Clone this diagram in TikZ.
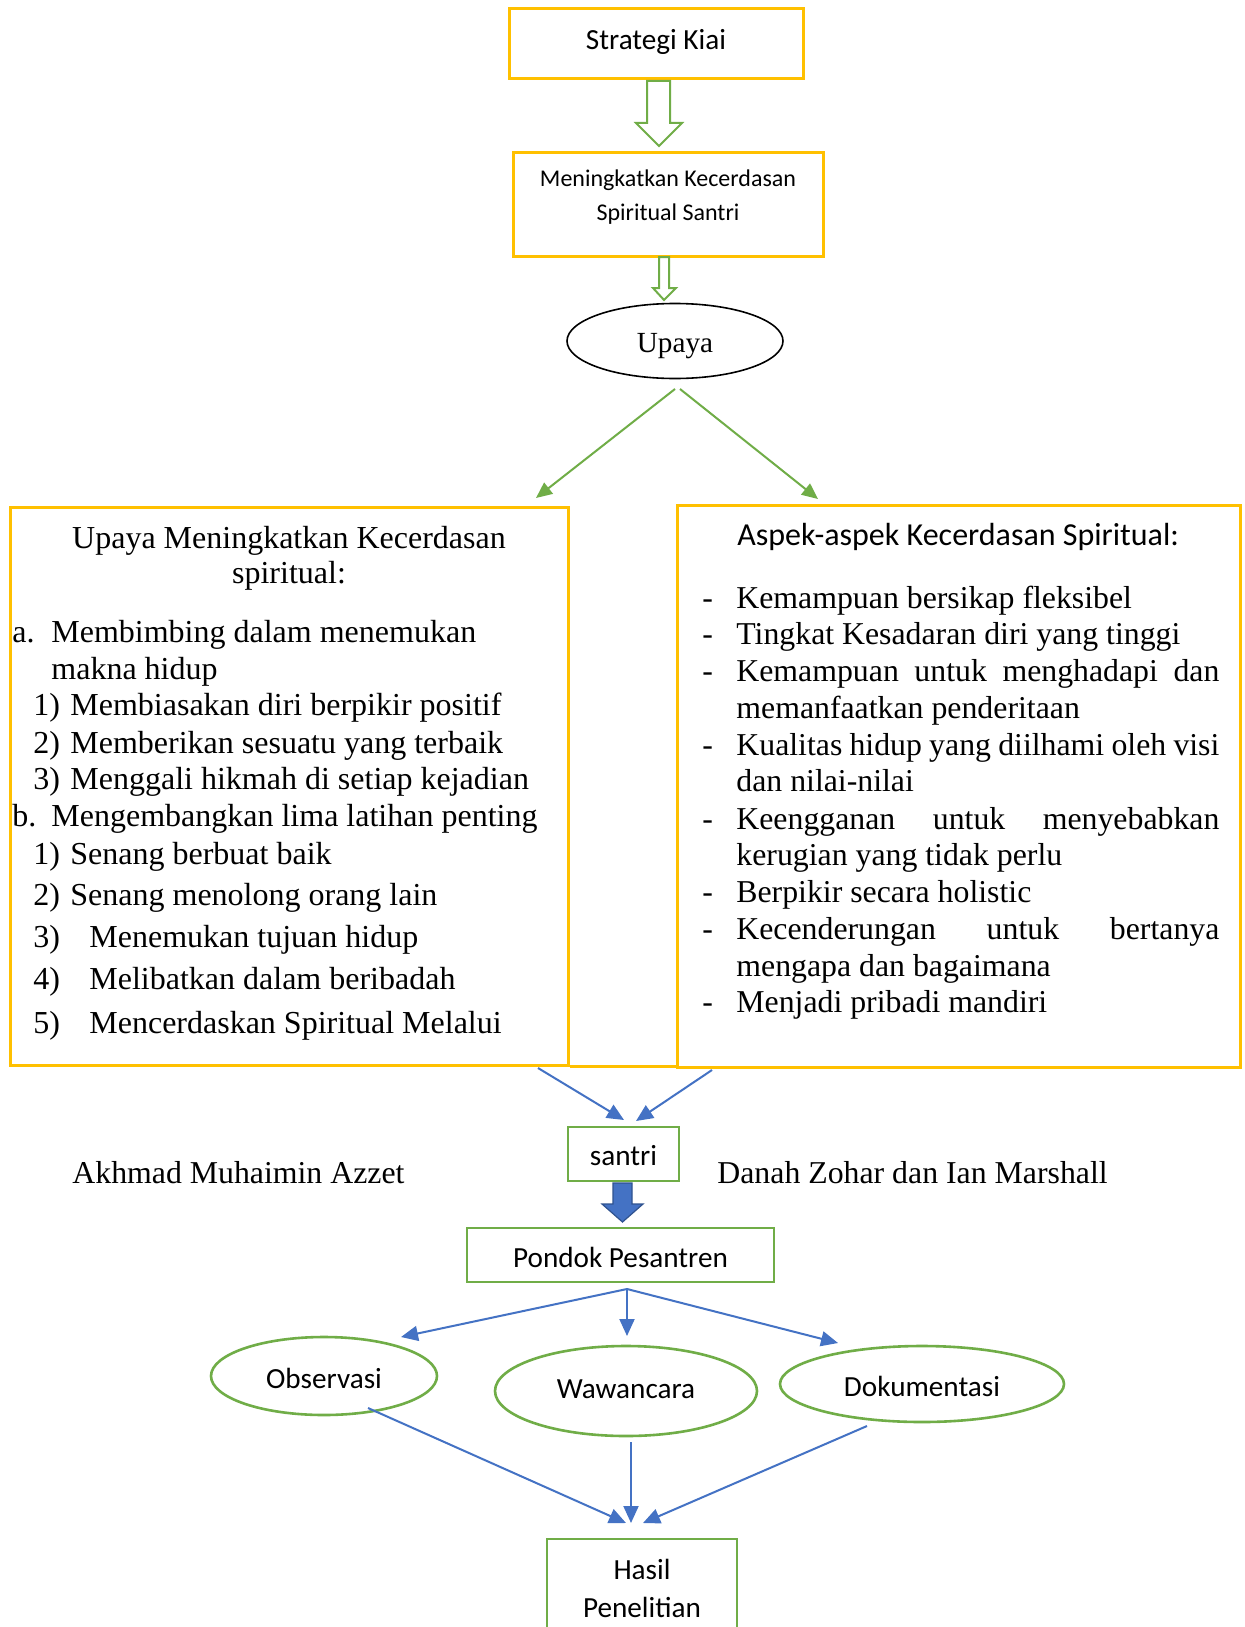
\documentclass[tikz,border=0pt]{standalone}
\usepackage{fontspec}
\setmainfont{Liberation Serif}
\newfontfamily\calib{Carlito}
\usetikzlibrary{arrows.meta,shapes.geometric}
\definecolor{ylw}{HTML}{FFC000}
\definecolor{grn}{HTML}{70AD47}
\definecolor{blu}{HTML}{4472C4}
\definecolor{bludark}{HTML}{2F528F}
\begin{document}
\begin{tikzpicture}[x=0.5pt,y=-0.5pt,
  ybox/.style={draw=ylw, line width=1.5pt, inner sep=0pt},
  gbox/.style={draw=grn, line width=1.4pt, inner sep=0pt},
  gell/.style={draw=grn, line width=1.3pt, ellipse, inner sep=0pt},
  tl/.style={inner sep=0pt, anchor=base west, font=\fontsize{16pt}{18pt}\selectfont},
  tr/.style={inner sep=0pt, anchor=base west, font=\fontsize{15.9pt}{18pt}\selectfont},
  cal/.style={font=\calib\fontsize{14.6pt}{17pt}\selectfont, inner sep=0pt},
  barrow/.style={draw=blu, line width=1pt, -{Triangle[length=8.5pt,width=7.5pt]}},
  garrow/.style={draw=grn, line width=1pt, -{Triangle[length=8pt,width=7pt]}},
  hollow/.style={draw=grn, line width=1pt, fill=white, line join=miter}]
\useasboundingbox (0,0) rectangle (1245,1627);
\clip (0,0) rectangle (1245,1627);
\fill[white] (0,0) rectangle (1245,1627);

% top boxes
\node[ybox, minimum width=147pt, minimum height=35pt] (kiai) at (656,44) {};
\node[cal] (kiait) at (656,42) {Strategi Kiai};
\draw[hollow] (647,81) -- (670,81) -- (670,123) -- (682,123) -- (659,146) -- (636,123) -- (647,123) -- cycle;

\node[ybox, minimum width=155pt, minimum height=52pt] (mening) at (668,204) {};
\node[cal, align=center, font=\calib\fontsize{12pt}{17pt}\selectfont] (meningt) at (668,197) {Meningkatkan Kecerdasan\\Spiritual Santri};
\draw[hollow] (659,257) -- (669,257) -- (669,288) -- (676,288) -- (664,300) -- (653,288) -- (659,288) -- cycle;

\node[draw, ellipse, line width=0.8pt, minimum width=108pt, minimum height=37.5pt, inner sep=0pt] (upaya) at (675,341) {};
\node[inner sep=0pt, font=\fontsize{14.6pt}{17pt}\selectfont] (upayat) at (675,346) {Upaya};

\coordinate (usrcl) at (675,389);
\coordinate (usrcr) at (680,389);
\coordinate (utipl) at (536,498);
\coordinate (utipr) at (818,499);
\draw[garrow] (usrcl) -- (utipl);
\draw[garrow] (usrcr) -- (utipr);

% left box
\node[ybox, minimum width=279pt, minimum height=279pt] (leftbox) at (289,786) {};
\node[font=\fontsize{16pt}{18pt}\selectfont, inner sep=0pt, anchor=base] (lt1) at (289,548) {Upaya Meningkatkan Kecerdasan};
\node[font=\fontsize{16pt}{18pt}\selectfont, inner sep=0pt, anchor=base] (lt2) at (289,583) {spiritual:};
\node[tl] (la) at (12,642) {a.};
\node[tl] (la1) at (51,642) {Membimbing dalam menemukan};
\node[tl] (la2) at (51,679) {makna hidup};
\node[tl] (n1) at (33,715) {1)};
\node[tl] (n1t) at (70,715) {Membiasakan diri berpikir positif};
\node[tl] (n2) at (33,753) {2)};
\node[tl] (n2t) at (70,753) {Memberikan sesuatu yang terbaik};
\node[tl] (n3) at (33,789) {3)};
\node[tl] (n3t) at (70,789) {Menggali hikmah di setiap kejadian};
\node[tl] (lb) at (12,826) {b.};
\node[tl] (lb1) at (51,826) {Mengembangkan lima latihan penting};
\node[tl] (m1) at (33,864) {1)};
\node[tl] (m1t) at (70,864) {Senang berbuat baik};
\node[tl] (m2) at (33,905) {2)};
\node[tl] (m2t) at (70,905) {Senang menolong orang lain};
\node[tl] (m3) at (33,947) {3)};
\node[tl] (m3t) at (89,947) {Menemukan tujuan hidup};
\node[tl] (m4) at (33,989) {4)};
\node[tl] (m4t) at (89,989) {Melibatkan dalam beribadah};
\node[tl] (m5) at (33,1033) {5)};
\node[tl] (m5t) at (89,1033) {Mencerdaskan Spiritual Melalui};

% right box
\node[ybox, minimum width=281.5pt, minimum height=281pt] (rightbox) at (958.5,786) {};
\draw[ylw, line width=1.9pt] (leftbox.south east) -- (rightbox.south west |- leftbox.south east);
\node[inner sep=0pt, anchor=base west, font=\calib\fontsize{16pt}{18pt}\selectfont] (asp) at (737,545) {Aspek-aspek Kecerdasan Spiritual:};
\foreach \yy/\nm in {608/d1,644/d2,681/d3,755/d4,829/d5,902/d6,939/d7,1012/d8}
  \node[tr] (\nm) at (702,\yy) {-};
\node[tr] (r1) at (736,608) {Kemampuan bersikap fleksibel};
\node[tr] (r2) at (736,644) {Tingkat Kesadaran diri yang tinggi};
\node[tr] (r3) at (736,681) {\makebox[241.5pt][s]{Kemampuan untuk menghadapi dan}};
\node[tr] (r4) at (736,718) {memanfaatkan penderitaan};
\node[tr] (r5) at (736,755) {\makebox[241.5pt][s]{Kualitas hidup yang diilhami oleh visi}};
\node[tr] (r6) at (736,791) {dan nilai-nilai};
\node[tr] (r7) at (736,829) {\makebox[241.5pt][s]{Keengganan untuk menyebabkan}};
\node[tr] (r8) at (736,865) {kerugian yang tidak perlu};
\node[tr] (r9) at (736,902) {Berpikir secara holistic};
\node[tr] (r10) at (736,939) {\makebox[241.5pt][s]{Kecenderungan untuk bertanya}};
\node[tr] (r11) at (736,976) {mengapa dan bagaimana};
\node[tr] (r12) at (736,1012) {Menjadi pribadi mandiri};

% santri
\coordinate (bsl) at (538,1068);
\coordinate (btl) at (624,1120);
\coordinate (bsr) at (712,1070);
\coordinate (btr) at (636,1121);
\draw[barrow] (bsl) -- (btl);
\draw[barrow] (bsr) -- (btr);
\node[gbox, minimum width=55.5pt, minimum height=27pt] (santri) at (623.5,1154) {};
\node[cal] (santrit) at (623.5,1156) {santri};
\node[tr] (akh) at (72,1183) {Akhmad Muhaimin Azzet};
\node[tr] (dan) at (717,1183) {Danah Zohar dan Ian Marshall};
\draw[bludark, line width=0.6pt, fill=blu] (613,1183) -- (632,1183) -- (632,1204) -- (643,1204) -- (622.5,1222) -- (602,1204) -- (613,1204) -- cycle;

\node[gbox, minimum width=153.5pt, minimum height=27pt] (pondok) at (620.5,1255) {};
\node[cal] (pondokt) at (620.5,1257) {Pondok Pesantren};

\node[gell, minimum width=113pt, minimum height=39pt] (obs) at (324,1376) {};
\node[cal] (obst) at (324,1378) {Observasi};
\node[gell, minimum width=131pt, minimum height=45pt] (waw) at (626,1391) {};
\node[cal] (wawt) at (626,1389) {Wawancara};
\node[gell, minimum width=142pt, minimum height=38pt] (dok) at (922,1384) {};
\node[cal] (dokt) at (922,1386) {Dokumentasi};

\coordinate (psrc) at (627,1289);
\coordinate (ptobs) at (401,1337);
\coordinate (ptwaw) at (627,1336);
\coordinate (ptdok) at (838,1343);
\draw[barrow] (psrc) -- (ptobs);
\draw[barrow] (psrc) -- (ptwaw);
\draw[barrow] (psrc) -- (ptdok);

\coordinate (osrc) at (368,1408);
\coordinate (otip) at (626,1523);
\coordinate (wsrc) at (631,1442);
\coordinate (wtip) at (631,1523);
\coordinate (dsrc) at (867,1426);
\coordinate (dtip) at (643,1523);
\draw[barrow] (osrc) -- (otip);
\draw[barrow] (wsrc) -- (wtip);
\draw[barrow] (dsrc) -- (dtip);

\node[gbox, minimum width=95pt, minimum height=70.5pt] (hasil) at (642,1609.5) {};
\node[cal] (hasil1) at (642,1569) {Hasil};
\node[cal] (hasil2) at (642,1607) {Penelitian};
\end{tikzpicture}
\end{document}
